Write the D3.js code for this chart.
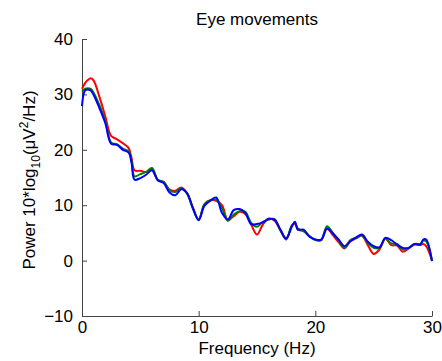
<!DOCTYPE html>
<html>
<head>
<meta charset="utf-8">
<script src="https://d3js.org/d3.v7.min.js"></script>
<style>
  body { margin: 0; background: #fff; }
  text { font-family: "Liberation Sans", Arial, sans-serif; fill: #000; }
</style>
</head>
<body>
<div id="chart"></div>
<script>
// Spectra data
const freqs = [0, 0.25, 0.5, 0.75, 1, 1.5, 2, 2.5, 3, 3.5, 4, 4.25, 4.5, 5, 5.5, 6, 6.5, 7, 7.5, 8, 8.5, 9, 9.5, 10,
    10.5, 11, 11.5, 12, 12.5, 13, 13.5, 14, 14.5, 15, 15.5, 16, 16.5, 17, 17.5, 18, 18.25, 18.5, 19, 19.5, 20,
    20.5, 21, 21.5, 22, 22.5, 23, 23.5, 24, 24.5, 25, 25.5, 26, 26.5, 27, 27.5, 28, 28.5, 29, 29.25, 29.5, 30];

const redVals = [31, 32, 32.6, 32.9, 32.5, 29.5, 26, 22.5, 21.9, 21.2, 20.3, 18.5, 16.3, 16.2, 16.0, 16.4, 14.5, 14.2, 12.8, 12.6, 13.2, 12.2, 9.6, 7.4,
    10.2, 10.9, 10.8, 10.0, 7.3, 8.0, 8.8, 8.4, 6.5, 4.7, 6.5, 7.6, 7.2, 5.5, 3.8, 6.3, 6.7, 5.6, 5.3, 4.4, 3.8,
    3.7, 5.8, 4.6, 3.3, 2.2, 3.5, 4.0, 4.5, 2.8, 1.2, 2.0, 4.0, 2.8, 2.7, 1.6, 2.2, 2.9, 2.8, 3.0, 2.6, 0];

const greenVals = [30.5, 31.0, 31.1, 31.0, 30.3, 28, 25.2, 21.3, 21.0, 20.2, 19.7, 18, 15.2, 15.6, 16.0, 16.7, 14.6, 14.2, 12.7, 12.4, 13.0, 12.1, 9.4, 7.4,
    10.2, 10.9, 11.0, 9.5, 7.2, 8.3, 8.9, 8.8, 6.8, 6.1, 7.0, 7.4, 7.5, 5.5, 4.0, 6.4, 6.8, 5.8, 5.3, 4.4, 3.7,
    3.7, 6.2, 5.0, 3.6, 2.3, 3.7, 4.1, 4.5, 3.2, 2.3, 2.3, 4.0, 3.1, 3.0, 2.0, 2.3, 3.0, 3.0, 3.6, 3.5, 0];

const blueVals = [27.9, 30.7, 30.9, 30.7, 29.9, 27.5, 24.8, 21.1, 20.9, 20.0, 19.5, 17.6, 14.6, 14.9, 15.5, 16.3, 14.5, 14.0, 12.3, 11.8, 12.9, 12.2, 9.5, 7.3,
    9.9, 10.8, 11.4, 8.6, 7.4, 9.1, 9.3, 8.6, 6.6, 6.6, 6.9, 7.5, 7.4, 5.6, 4.0, 6.2, 7.0, 5.6, 5.6, 4.3, 3.8,
    3.8, 5.8, 4.9, 3.8, 2.6, 3.5, 4.2, 4.7, 3.4, 2.6, 2.4, 4.1, 3.7, 2.9, 2.3, 2.3, 3.0, 2.9, 3.8, 3.8, -0.1];

const seriesColors = ["#ff0000", "#008000", "#0000ff"];
const xTicks = [0, 10, 20, 30];
const yTicks = [-10, 0, 10, 20, 30, 40];

const width = 442, height = 361;
const margin = {top: 39, right: 10, bottom: 45, left: 82};
const fontSize = '17px';

const svg = d3.select('#chart').append('svg')
    .attr('width', width)
    .attr('height', height);

const x = d3.scaleLinear().domain([0, 30]).range([margin.left, width - margin.right]);
const y = d3.scaleLinear().domain([-10, 40]).range([height - margin.bottom, margin.top]);

// axes (MATLAB style, ticks inside)
const xAxis = svg.append('g')
    .attr('transform', `translate(0,${y(-10)})`)
    .call(d3.axisBottom(x).tickValues(xTicks).tickSizeInner(-5).tickSizeOuter(0).tickPadding(8));
const yAxis = svg.append('g')
    .attr('transform', `translate(${x(0)},0)`)
    .call(d3.axisLeft(y).tickValues(yTicks).tickSizeInner(-5).tickSizeOuter(0).tickPadding(9)
        .tickFormat(d => d < 0 ? '\u2212' + Math.abs(d) : d));

[xAxis, yAxis].forEach(g => {
    g.select('.domain').attr('stroke', '#444').attr('stroke-width', 1);
    g.selectAll('.tick line').attr('stroke', '#444');
    g.selectAll('.tick text').style('font-size', fontSize).style('font-family', '"Liberation Sans", Arial, sans-serif');
});
xAxis.selectAll('.tick text').attr('dy', '0.5em');

// lines
const line = d3.line()
    .x((d, i) => x(freqs[i]))
    .y(d => y(d))
    .curve(d3.curveCatmullRom.alpha(0.5));

[redVals, greenVals, blueVals].forEach((vals, i) => {
    svg.append('path')
        .attr('d', line(vals))
        .attr('fill', 'none')
        .attr('stroke', seriesColors[i])
        .attr('stroke-width', 2)
        .attr('stroke-linejoin', 'round');
});

// title
svg.append('text')
    .attr('x', (margin.left + width - margin.right) / 2)
    .attr('y', 25)
    .attr('text-anchor', 'middle')
    .style('font-size', fontSize)
    .text('Eye movements');

// x label
svg.append('text')
    .attr('x', (margin.left + width - margin.right) / 2)
    .attr('y', 354)
    .attr('text-anchor', 'middle')
    .style('font-size', fontSize)
    .text('Frequency (Hz)');

// y label with sub/superscript
const yl = svg.append('text')
    .attr('transform', `translate(35,180) rotate(-90)`)
    .attr('text-anchor', 'middle')
    .style('font-size', fontSize);
yl.append('tspan').text('Power 10*log');
yl.append('tspan').attr('dy', 5).style('font-size', '12px').text('10');
yl.append('tspan').attr('dy', -5).text('(\u03bcV');
yl.append('tspan').attr('dy', -7).style('font-size', '12px').text('2');
yl.append('tspan').attr('dy', 7).text('/Hz)');
</script>
</body>
</html>
